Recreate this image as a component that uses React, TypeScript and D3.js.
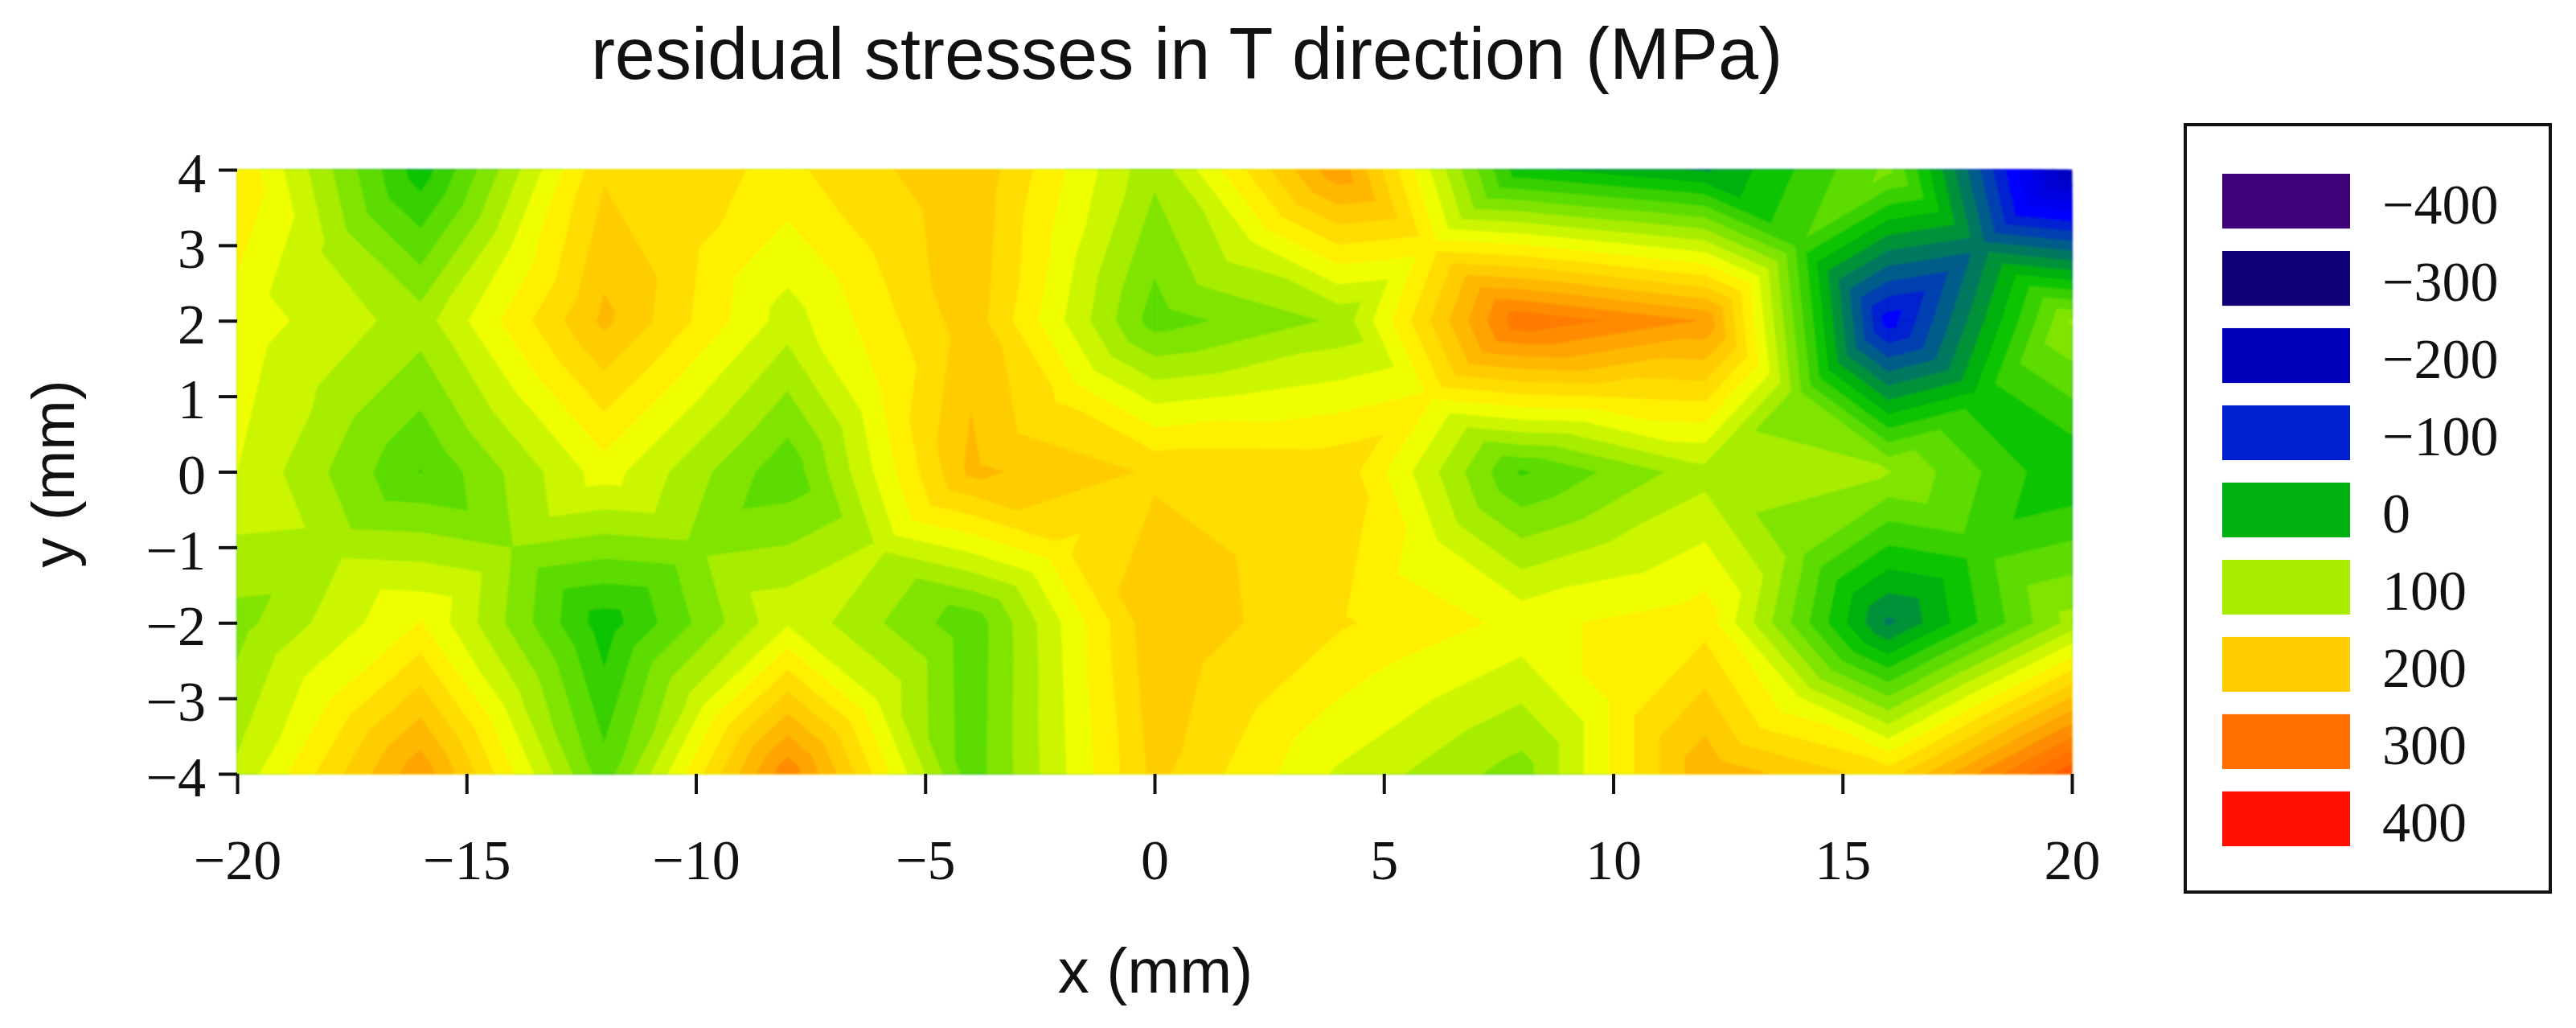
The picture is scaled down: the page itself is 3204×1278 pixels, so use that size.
import React, { useEffect, useRef } from 'react';
import * as d3 from 'd3';

// measured stress (MPa) at the grid nodes, one list per y row
const xNodes = [-20, -16, -12, -8, -4, 0, 4, 8, 12, 16, 20];
const yNodes = [4, 2, 0, -2, -4];
const rowY4 = [178, 28, 197, 175, 218, 105, 255, 25, -3, 85, -205];
const rowY2 = [152, 110, 225, 130, 212, 70, 103, 296, 258, -112, 102];
const rowY0 = [140, 59, 150, 65, 225, 197, 196, 57, 112, 101, 20];
const rowYm2 = [92, 161, 28, 137, 66, 216, 183, 154, 172, -25, 108];
const rowYm4 = [124, 255, 68, 275, 68, 206, 137, 90, 236, 190, 335];
const rows = [rowY4, rowY2, rowY0, rowYm2, rowYm4];

// contour bands, 20 MPa wide: bandStarts[i] is the lower limit of bandColors[i]
const bandStarts = [-220, -200, -180, -160, -140, -120, -100, -80, -60, -40, -20, 0, 20, 40, 60, 80, 100, 120, 140, 160, 180, 200, 220, 240, 260, 280, 300, 320, 340];
const bandColors = ['#0000b8', '#0000c4', '#0000d0', '#0000e0', '#0000f0', '#0000ff', '#0020d0', '#0040b0', '#005c88', '#007860', '#009238', '#00b010', '#10c400', '#38d000', '#5cdc00', '#80e400', '#a8ec00', '#ccf600', '#f0ff00', '#fff000', '#ffdd00', '#ffcc00', '#ffb800', '#ffa400', '#ff8c00', '#ff7c00', '#ff7000', '#ff5c00', '#ff4000'];

const legendLabels = ['−400', '−300', '−200', '−100', '0', '100', '200', '300', '400'];
const legendColors = ['#400078', '#100078', '#0000b8', '#0020d0', '#00b010', '#a8ec00', '#ffcc00', '#ff7000', '#ff1000'];

const xTicks = [-20, -15, -10, -5, 0, 5, 10, 15, 20];
const yTicks = [-4, -3, -2, -1, 0, 1, 2, 3, 4];

const serif = '"Liberation Serif", serif';
const sans = '"Liberation Sans", sans-serif';

type P = { x: number; y: number; v: number };

// keep the part of a polygon where v >= level
const clipAbove = (poly: P[], level: number): P[] => {
  const out: P[] = [];
  poly.forEach((a, i) => {
    const b = poly[(i + 1) % poly.length];
    if (a.v >= level) out.push(a);
    if ((a.v >= level) !== (b.v >= level)) {
      const t = (level - a.v) / (b.v - a.v);
      out.push({ x: a.x + t * (b.x - a.x), y: a.y + t * (b.y - a.y), v: level });
    }
  });
  return out;
};

const App = () => {
  const svgRef = useRef<SVGSVGElement>(null);

  useEffect(() => {
    const svg = d3.select(svgRef.current);
    svg.selectAll('*').remove();

    const xScale = d3.scaleLinear().domain([-20, 20]).range([295, 2577]);
    const yScale = d3.scaleLinear().domain([-4, 4]).range([962, 211]);

    // every grid cell is split in four triangles around its centre
    const triangles: P[][] = [];
    for (let r = 0; r < yNodes.length - 1; r++) {
      for (let c = 0; c < xNodes.length - 1; c++) {
        const corner = (ri: number, ci: number): P => ({ x: xNodes[ci], y: yNodes[ri], v: rows[ri][ci] });
        const a = corner(r, c);
        const b = corner(r, c + 1);
        const d = corner(r + 1, c + 1);
        const e = corner(r + 1, c);
        const mid: P = {
          x: (a.x + b.x) / 2,
          y: (a.y + e.y) / 2,
          v: d3.mean([a.v, b.v, d.v, e.v]) as number,
        };
        triangles.push([a, b, mid], [b, d, mid], [d, e, mid], [e, a, mid]);
      }
    }

    const defs = svg.append('defs');
    defs.append('filter').attr('id', 'soft')
      .attr('x', '-1%').attr('y', '-1%').attr('width', '102%').attr('height', '102%')
      .append('feGaussianBlur').attr('stdDeviation', 1.1);

    // painted from low to high, each band covers everything above its limit
    const plot = svg.append('g').attr('filter', 'url(#soft)');
    bandStarts.forEach((start, i) => {
      const path = d3.path();
      triangles.forEach(tri => {
        const poly = i === 0 ? tri : clipAbove(tri, start);
        if (poly.length < 3) return;
        poly.forEach((p, k) => {
          if (k === 0) path.moveTo(xScale(p.x), yScale(p.y));
          else path.lineTo(xScale(p.x), yScale(p.y));
        });
        path.closePath();
      });
      plot.append('path').attr('d', path.toString()).attr('fill', bandColors[i])
        .attr('stroke', bandColors[i]).attr('stroke-width', 0.6);
    });

    // axes
    const xAxis = svg.append('g')
      .attr('transform', 'translate(0, 962)')
      .call(d3.axisBottom(xScale).tickValues(xTicks).tickSize(25).tickPadding(58).tickSizeOuter(0));
    const yAxis = svg.append('g')
      .attr('transform', 'translate(295, 0)')
      .call(d3.axisLeft(yScale).tickValues(yTicks).tickSize(23).tickPadding(16).tickSizeOuter(0));
    [xAxis, yAxis].forEach(axis => {
      axis.select('.domain').remove();
      axis.selectAll('line').attr('stroke', '#111').attr('stroke-width', 4);
      axis.selectAll('text').attr('fill', '#111').style('font-family', serif).style('font-size', '70px');
    });
    // the y labels sit a little below their ticks
    yAxis.selectAll('text').attr('dy', '0.39em');
    xAxis.selectAll('text').attr('dy', '0.68em');

    // titles
    svg.append('text')
      .attr('x', 1476).attr('y', 98)
      .attr('text-anchor', 'middle').attr('fill', '#111')
      .style('font-family', sans).style('font-size', '90px')
      .text('residual stresses in T direction (MPa)');
    svg.append('text')
      .attr('x', 1437).attr('y', 1234)
      .attr('text-anchor', 'middle').attr('fill', '#111')
      .style('font-family', sans).style('font-size', '78px')
      .text('x (mm)');
    svg.append('text')
      .attr('transform', 'translate(92, 589) rotate(-90)')
      .attr('text-anchor', 'middle').attr('fill', '#111')
      .style('font-family', sans).style('font-size', '75px')
      .text('y (mm)');

    // legend
    svg.append('rect')
      .attr('x', 2718).attr('y', 155).attr('width', 454).attr('height', 954)
      .attr('fill', 'white').attr('stroke', '#111').attr('stroke-width', 4);
    const legendY = d3.scaleBand().domain(legendLabels).range([216, 1052]).paddingInner(0.29).paddingOuter(0);
    const legend = svg.selectAll('.legend').data(legendLabels).enter().append('g')
      .attr('transform', d => `translate(2764, ${legendY(d)})`);
    legend.append('rect')
      .attr('width', 159).attr('height', legendY.bandwidth())
      .attr('fill', (_, i) => legendColors[i]);
    legend.append('text')
      .attr('x', 199).attr('y', legendY.bandwidth() / 2 + 28)
      .attr('fill', '#111')
      .style('font-family', serif).style('font-size', '70px')
      .text(d => d);
  }, []);

  return <svg ref={svgRef} width={3204} height={1278} style={{ position: 'fixed', left: 0, top: 0, background: 'white' }} />;
};

export default App;
